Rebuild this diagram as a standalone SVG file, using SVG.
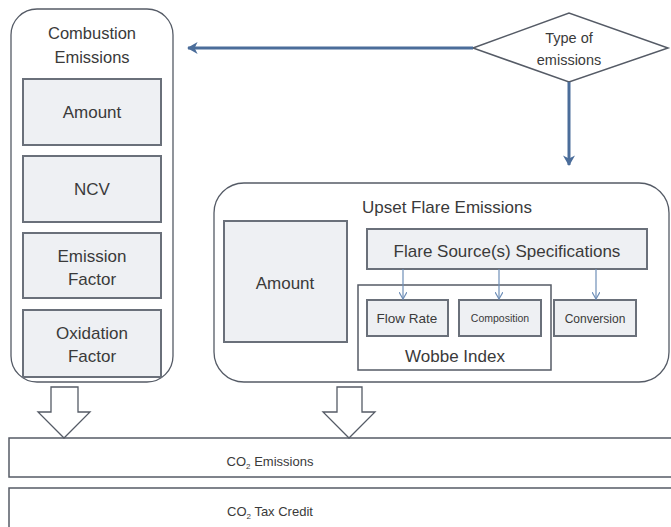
<svg xmlns="http://www.w3.org/2000/svg" width="671" height="527" viewBox="0 0 671 527">
<style>
text{font-family:"Liberation Sans",Arial,sans-serif;fill:#3a3a3a;text-anchor:middle}
.grp{fill:#fff;stroke:#555b66;stroke-width:1.3}
.box{fill:#eef0f3;stroke:#6a707a;stroke-width:2}
.plain{fill:#fff;stroke:#555b66;stroke-width:1.5}
.big{stroke:#4b6d9a;stroke-width:3;fill:none}
.thin{stroke:#6f8fb8;stroke-width:1.2;fill:none}
.blk{fill:#fff;stroke:#555b66;stroke-width:1.3}
.t17{font-size:17px}
</style>
<defs>
<marker id="ah" markerWidth="4" markerHeight="4" refX="3.2" refY="2" orient="auto" markerUnits="strokeWidth"><path d="M0,0 L3.5,2 L0,4 L1,2 z" fill="#4b6d9a"/></marker>
<marker id="sh" markerWidth="8" markerHeight="8" refX="7" refY="4" orient="auto" markerUnits="userSpaceOnUse"><path d="M0,0 L7,4 L0,8" fill="none" stroke="#6f8fb8" stroke-width="1.2"/></marker>
</defs>

<g id="combustion">
<rect class="grp" x="11" y="9" width="162" height="373" rx="26"/>
<text x="92" y="39" font-size="16.5">Combustion</text>
<text x="92" y="63" font-size="16.5">Emissions</text>
</g>
<g id="c-amount"><rect class="box" x="23" y="79" width="138" height="66"/><text x="92" y="118" class="t17">Amount</text></g>
<g id="c-ncv"><rect class="box" x="23" y="156" width="138" height="66"/><text x="92" y="195" class="t17">NCV</text></g>
<g id="c-ef"><rect class="box" x="23" y="233" width="138" height="65"/><text x="92" y="262" class="t17">Emission</text><text x="92" y="285" class="t17">Factor</text></g>
<g id="c-of"><rect class="box" x="23" y="310" width="138" height="67"/><text x="92" y="339" class="t17">Oxidation</text><text x="92" y="362" class="t17">Factor</text></g>

<g id="type">
<polygon class="plain" points="473,48 569,13 668,48 569,82" stroke-width="1.3"/>
<text x="569" y="43" font-size="14.5">Type of</text>
<text x="569" y="65" font-size="14.5">emissions</text>
</g>

<g id="upset">
<rect class="grp" x="214" y="183" width="455" height="199" rx="30"/>
<text x="447" y="213" class="t17">Upset Flare Emissions</text>
</g>
<g id="u-amount"><rect class="box" x="224" y="221" width="123" height="121"/><text x="285" y="289" class="t17">Amount</text></g>
<g id="flare-spec"><rect class="box" x="367" y="229" width="280" height="40"/><text x="507" y="257" class="t17">Flare Source(s) Specifications</text></g>
<g id="wobbe"><rect class="plain" x="358" y="285" width="193" height="85"/><text x="455" y="362" class="t17">Wobbe Index</text></g>
<g id="flow-rate"><rect class="box" x="367" y="300" width="81" height="36"/><text x="407" y="323" font-size="13.5">Flow Rate</text></g>
<g id="composition"><rect class="box" x="459" y="300" width="82" height="36"/><text x="500" y="322" font-size="10.5">Composition</text></g>
<g id="conversion"><rect class="box" x="554" y="300" width="82" height="36"/><text x="595" y="323" font-size="12">Conversion</text></g>

<g id="co2-emissions"><rect class="plain" x="9" y="438" width="670" height="39"/><text x="270" y="466" font-size="13">CO<tspan font-size="8" dy="3">2</tspan><tspan dy="-3"> Emissions</tspan></text></g>
<g id="co2-tax"><rect class="plain" x="9" y="488" width="670" height="45"/><text x="270" y="516" font-size="13">CO<tspan font-size="8" dy="3">2</tspan><tspan dy="-3"> Tax Credit</tspan></text></g>

<g id="connectors">
<line class="big" x1="473" y1="48" x2="188" y2="48" marker-end="url(#ah)"/>
<line class="big" x1="569" y1="82" x2="569" y2="165" marker-end="url(#ah)"/>
<line class="thin" x1="403" y1="269" x2="403" y2="299" marker-end="url(#sh)"/>
<line class="thin" x1="499" y1="269" x2="499" y2="299" marker-end="url(#sh)"/>
<line class="thin" x1="596" y1="269" x2="596" y2="299" marker-end="url(#sh)"/>
<polygon class="blk" points="51,387 78,387 78,412 90,412 64,438 38,412 51,412"/>
<polygon class="blk" points="337,387 362,387 362,412 375,412 349,438 323,412 337,412"/>
</g>
</svg>
